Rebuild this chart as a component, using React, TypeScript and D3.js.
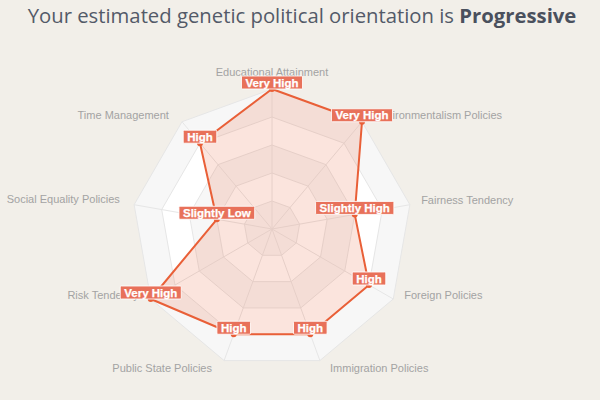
import React, { useEffect, useRef } from "react";
import * as d3 from "d3";

const categories = [
  "Educational Attainment",
  "Environmentalism Policies",
  "Fairness Tendency",
  "Foreign Policies",
  "Immigration Policies",
  "Public State Policies",
  "Risk Tendency",
  "Social Equality Policies",
  "Time Management",
];
const values = [5, 5, 3, 4, 4, 4, 5, 2, 4];
const valueLabels = [
  "Very High",
  "Very High",
  "Slightly High",
  "High",
  "High",
  "High",
  "Very High",
  "Slightly Low",
  "High",
];
const levels = [1, 2, 3, 4, 5];
const titleRegular = "Your estimated genetic political orientation is ";
const titleBold = "Progressive";

// layout
const W = 600;
const H = 400;
const CX = 272;
const CY = 229;
const R = 140;
const LABEL_R = 155;
// small per-axis nudges of axis labels (dx, dy)
const labelNudge: [number, number][] = [
  [0, -2],
  [2, 5],
  [-3.5, -2],
  [-2, -11.5],
  [5, -6.5],
  [-7, -6.5],
  [1, -11.5],
  [0.5, -3],
  [-3.5, 5],
];

export default function App() {
  const ref = useRef<SVGSVGElement | null>(null);

  useEffect(() => {
    const svg = d3.select(ref.current);
    svg.selectAll("*").remove();

    svg
      .append("rect")
      .attr("width", W)
      .attr("height", H)
      .attr("fill", "#f2efe9");

    // title
    const title = svg
      .append("text")
      .attr("x", 302)
      .attr("y", 23)
      .attr("text-anchor", "middle")
      .attr("font-family", "'Open Sans', sans-serif")
      .attr("font-size", 20.3)
      .attr("fill", "#535a68");
    title.append("tspan").text(titleRegular);
    title
      .append("tspan")
      .attr("font-weight", "bold")
      .attr("fill", "#4a505d")
      .text(titleBold);

    const n = categories.length;
    const angle = d3
      .scaleLinear()
      .domain([0, n])
      .range([0, 2 * Math.PI]);
    const r = d3.scaleLinear().domain([0, 5]).range([0, R]);

    const pt = (i: number, v: number): [number, number] => {
      const a = angle(i);
      return [CX + r(v) * Math.sin(a), CY - r(v) * Math.cos(a)];
    };

    const g = svg.append("g");

    const polyPath = (v: number) =>
      "M" +
      d3
        .range(n)
        .map((i) => pt(i, v).join(","))
        .join("L") +
      "Z";

    [...levels].reverse().forEach((lv) => {
      g.append("path")
        .attr("d", polyPath(lv))
        .attr("fill", lv % 2 === 1 ? "#f7f7f7" : "#ffffff")
        .attr("stroke", "#e6e6e6")
        .attr("stroke-width", 1);
    });

    // spokes
    d3.range(n).forEach((i) => {
      const [x, y] = pt(i, 5);
      g.append("line")
        .attr("x1", CX)
        .attr("y1", CY)
        .attr("x2", x)
        .attr("y2", y)
        .attr("stroke", "#e6e6e6")
        .attr("stroke-width", 1);
    });

    // axis labels
    categories.forEach((c, i) => {
      const a = angle(i);
      const s = Math.sin(a);
      const x = CX + LABEL_R * s + labelNudge[i][0];
      const y = CY - LABEL_R * Math.cos(a) + labelNudge[i][1];
      const anchor = Math.abs(s) < 0.1 ? "middle" : s > 0 ? "start" : "end";
      g.append("text")
        .attr("x", x)
        .attr("y", y)
        .attr("dy", "0.35em")
        .attr("text-anchor", anchor)
        .attr("font-family", "'Liberation Sans', Arial, sans-serif")
        .attr("font-size", 11)
        .attr("fill", "#a3a3a3")
        .text(c);
    });

    // data polygon
    const lineGen = d3
      .lineRadial<number>()
      .angle((_, i) => angle(i))
      .radius((d) => r(d))
      .curve(d3.curveLinearClosed);

    g.append("path")
      .attr("transform", `translate(${CX},${CY})`)
      .attr("d", lineGen(values) as string)
      .attr("fill", "rgba(233, 95, 55, 0.17)")
      .attr("stroke", "#e95f37")
      .attr("stroke-width", 2)
      .attr("stroke-linejoin", "round");

    // markers
    values.forEach((v, i) => {
      const [x, y] = pt(i, v);
      g.append("circle")
        .attr("cx", x)
        .attr("cy", y)
        .attr("r", 3)
        .attr("fill", "#e95f37");
    });

    // data labels
    values.forEach((v, i) => {
      const [x, y] = pt(i, v);
      const lg = g.append("g");
      const rect = lg.append("rect");
      const t = lg
        .append("text")
        .attr("x", x)
        .attr("y", y - 2.5)
        .attr("text-anchor", "middle")
        .attr("font-family", "'Liberation Sans', Arial, sans-serif")
        .attr("font-size", 11.5)
        .attr("font-weight", "bold")
        .attr("fill", "#ffffff")
        .attr("stroke", "#ffffff")
        .attr("stroke-width", 0.25)
        .text(valueLabels[i]);
      const w = (t.node() as SVGTextElement).getComputedTextLength();
      rect
        .attr("x", x - w / 2 - 4)
        .attr("y", y - 13)
        .attr("width", w + 8)
        .attr("height", 13)
        .attr("rx", 1)
        .attr("fill", "#e8715a")
        .attr("stroke", "#ffffff")
        .attr("stroke-opacity", 0.85)
        .attr("stroke-width", 1);
    });
  }, []);

  return (
    <div style={{ position: "fixed", left: 0, top: 0 }}>
      <svg ref={ref} width={W} height={H} />
    </div>
  );
}
